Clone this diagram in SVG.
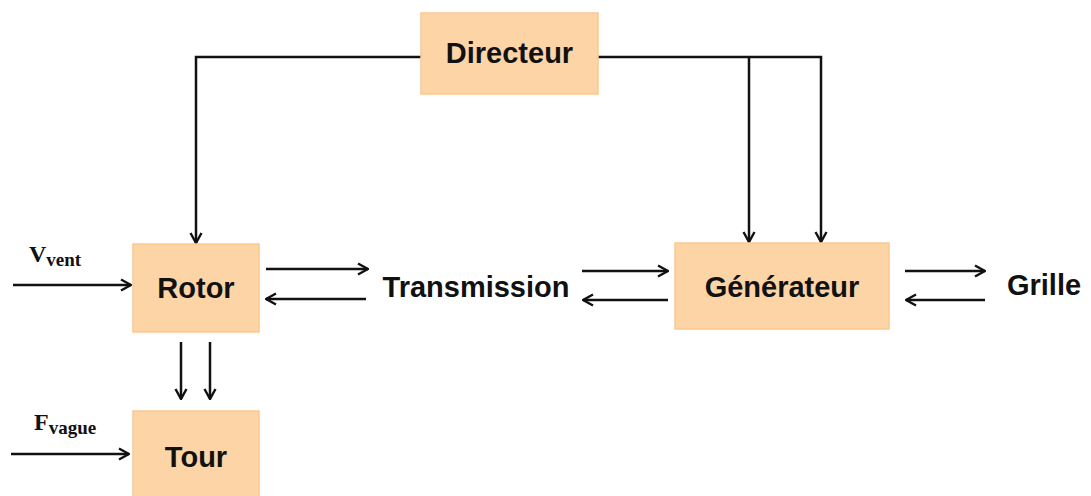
<svg xmlns="http://www.w3.org/2000/svg" width="1091" height="496" viewBox="0 0 1091 496">
<style>
.box{fill:#fdd4a6;stroke:#fbc98e;stroke-width:1.5}
.lbl{font-family:"Liberation Sans",Arial,sans-serif;font-weight:bold;font-size:29px;fill:#111;text-anchor:middle}
.ln{fill:none;stroke:#111;stroke-width:2.5}
.sym{font-family:"Liberation Serif","Times New Roman",serif;font-weight:bold;fill:#111}
</style>
<defs>
<marker id="ah" viewBox="0 0 14 14" refX="13" refY="7" markerWidth="14" markerHeight="14" markerUnits="userSpaceOnUse" orient="auto">
<path d="M3,1.5 L13,7 L3,12.5" fill="none" stroke="#111" stroke-width="2.4"/>
</marker>
</defs>
<rect width="1091" height="496" fill="#fff"/>
<g id="connectors">
<polyline class="ln" points="421,57 196,57 196,243" marker-end="url(#ah)"/>
<polyline class="ln" points="598,57 821,57 821,242" marker-end="url(#ah)"/>
<line class="ln" x1="749" y1="57" x2="749" y2="242" marker-end="url(#ah)"/>
<line class="ln" x1="13" y1="285" x2="131" y2="285" marker-end="url(#ah)"/>
<line class="ln" x1="11" y1="454" x2="129" y2="454" marker-end="url(#ah)"/>
<line class="ln" x1="181" y1="342" x2="181" y2="399" marker-end="url(#ah)"/>
<line class="ln" x1="210" y1="342" x2="210" y2="399" marker-end="url(#ah)"/>
<line class="ln" x1="266" y1="269" x2="368" y2="269" marker-end="url(#ah)"/>
<line class="ln" x1="366" y1="299" x2="266" y2="299" marker-end="url(#ah)"/>
<line class="ln" x1="582" y1="271" x2="668" y2="271" marker-end="url(#ah)"/>
<line class="ln" x1="668" y1="300" x2="583" y2="300" marker-end="url(#ah)"/>
<line class="ln" x1="905" y1="271" x2="985" y2="271" marker-end="url(#ah)"/>
<line class="ln" x1="985" y1="300" x2="906" y2="300" marker-end="url(#ah)"/>
</g>
<g id="directeur">
<rect class="box" x="421" y="13" width="177" height="81"/>
<text class="lbl" x="509.5" y="63">Directeur</text>
</g>
<g id="rotor">
<rect class="box" x="133" y="244" width="126" height="88"/>
<text class="lbl" x="196" y="298">Rotor</text>
</g>
<g id="tour">
<rect class="box" x="133" y="411" width="126" height="90"/>
<text class="lbl" x="196" y="467">Tour</text>
</g>
<g id="transmission">
<text class="lbl" x="476" y="297">Transmission</text>
</g>
<g id="generateur">
<rect class="box" x="675" y="243" width="214" height="86"/>
<text class="lbl" x="782" y="297">Générateur</text>
</g>
<g id="grille">
<text class="lbl" x="1044" y="295">Grille</text>
</g>
<g id="vvent">
<text class="sym" x="29" y="262" font-size="24">V<tspan font-size="19" dy="4">vent</tspan></text>
</g>
<g id="fvague">
<text class="sym" x="34" y="430" font-size="24">F<tspan font-size="19" dy="4">vague</tspan></text>
</g>
</svg>
